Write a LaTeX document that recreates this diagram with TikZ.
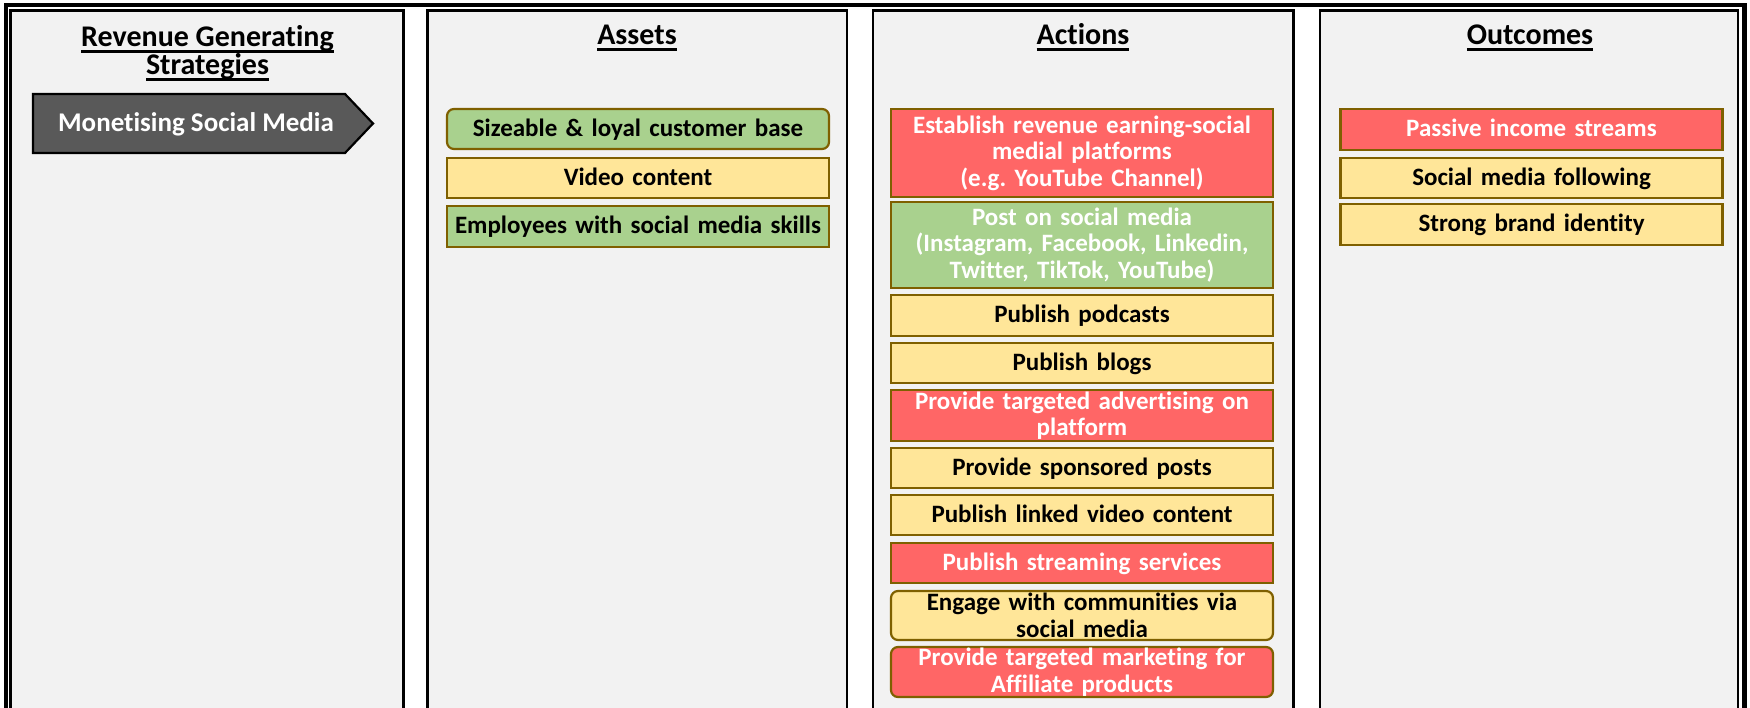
\documentclass[tikz,border=0pt]{standalone}
\usepackage{fontspec}
\setmainfont{Carlito}[Ligatures={NoCommon,NoRare,NoContextual}]
\frenchspacing
\definecolor{panel}{HTML}{F2F2F2}
\definecolor{edge}{HTML}{7F6000}
\definecolor{redfill}{HTML}{FF6666}
\definecolor{greenfill}{HTML}{A9D18E}
\definecolor{yellowfill}{HTML}{FFE699}
\definecolor{darkarrow}{HTML}{595959}
\newsavebox\ulbox
\newcommand\ulbar[1]{\sbox\ulbox{#1}\rlap{\rule[-6.5pt]{\wd\ulbox}{3.2pt}}\usebox\ulbox}
\tikzset{
  panelbox/.style={fill=panel, draw=black, line width=2.2},
  ttl/.style={font=\bfseries\fontsize{30}{30}\selectfont, inner sep=0pt, anchor=base},
  boxbase/.style={draw=edge, line width=2.2, inner sep=0pt, minimum width=382,
    text width=380, align=center, font=\bfseries\fontsize{25}{26.5}\selectfont},
  oneline/.style={text height=18, text depth=3},
  redbox/.style={boxbase, fill=redfill, text=white},
  greenbox/.style={boxbase, fill=greenfill},
  yellowbox/.style={boxbase, fill=yellowfill, text=black},
  roundbox/.style={rounded corners=7},
}
\begin{document}
\begin{tikzpicture}[x=1pt, y=-1pt]
\clip (0,0) rectangle (1750,708);
\fill[white] (0,0) rectangle (1750,708);

% four column panels
\draw[panelbox] (10.5,720) -- (10.5,10.5) -- (403.5,10.5) -- (403.5,720);
\draw[panelbox] (427.5,720) -- (427.5,10.5) -- (847,10.5) -- (847,720);
\draw[panelbox] (873,720) -- (873,10.5) -- (1293.5,10.5) -- (1293.5,720);
\draw[panelbox] (1320,720) -- (1320,10.5) -- (1738,10.5) -- (1738,720);

% heavy outer frame
\draw[black, line width=4.6] (6,720) -- (6,5) -- (1744.5,5) -- (1744.5,720);

% column headings
\node[ttl] (t1a) at (207.5,47) {\ulbar{Revenue Generating}};
\node[ttl] (t1b) at (207.5,75) {\ulbar{Strategies}};
\node[ttl] (t2) at (637,45) {\ulbar{Assets}};
\node[ttl] (t3) at (1083,45) {\ulbar{Actions}};
\node[ttl] (t4) at (1530,45) {\ulbar{Outcomes}};

% strategy arrow
\filldraw[fill=darkarrow, draw=black, line width=2.2]
  (33,94) -- (345,94) -- (373,123.5) -- (345,153) -- (33,153) -- cycle;
\node[text=white, font=\bfseries\fontsize{27}{27}\selectfont, inner sep=0pt, anchor=base]
  (strat) at (196,132) {Monetising Social Media};

% assets
\node[greenbox, roundbox, oneline, minimum height=40] (a1) at (638,129) {Sizeable \& loyal customer base};
\node[yellowbox, oneline, minimum height=40] (a2) at (638,178) {Video content};
\node[greenbox, oneline, minimum height=41] (a3) at (638,226.5) {Employees with social media skills};

% actions
\node[redbox, minimum height=88] (b1) at (1082,153)
  {Establish revenue earning-social\\medial platforms\\(e.g. YouTube Channel)};
\node[greenbox, text=white, minimum height=86] (b2) at (1082,245)
  {Post on social media\\(Instagram, Facebook, Linkedin,\\Twitter, TikTok, YouTube)};
\node[yellowbox, oneline, minimum height=41] (b3) at (1082,315.5) {Publish podcasts};
\node[yellowbox, oneline, minimum height=40] (b4) at (1082,363) {Publish blogs};
\node[redbox, minimum height=51] (b5) at (1082,415.5) {Provide targeted advertising on\\platform};
\node[yellowbox, oneline, minimum height=40] (b6) at (1082,468) {Provide sponsored posts};
\node[yellowbox, oneline, minimum height=40] (b7) at (1082,515) {Publish linked video content};
\node[redbox, oneline, minimum height=40] (b8) at (1082,563) {Publish streaming services};
\node[yellowbox, roundbox, minimum height=49] (b9) at (1082,615.5) {Engage with communities via\\social media};
\node[redbox, roundbox, minimum height=50] (b10) at (1082,672) {Provide targeted marketing for\\Affiliate products};

% outcomes
\node[redbox, oneline, minimum height=41] (c1) at (1531.5,129.5) {Passive income streams};
\node[yellowbox, oneline, minimum height=40] (c2) at (1531.5,178) {Social media following};
\node[yellowbox, oneline, minimum height=41] (c3) at (1531.5,224.5) {Strong brand identity};
\end{tikzpicture}
\end{document}
